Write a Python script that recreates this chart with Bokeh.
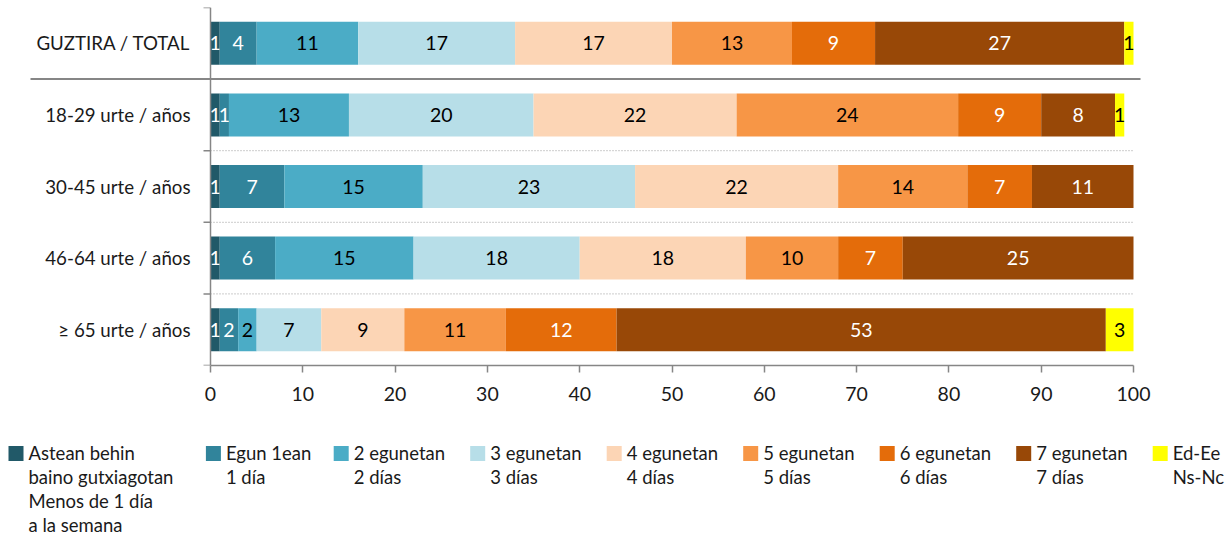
from bokeh.plotting import figure
from bokeh.models import ColumnDataSource, Range1d, Span, FixedTicker
from bokeh.layouts import column
from bokeh.embed import file_html
from bokeh.resources import INLINE
from bokeh.core.properties import value
import numpy as np

# ---------------- data ----------------
categories = ["GUZTIRA / TOTAL", "18-29 urte / años", "30-45 urte / años",
              "46-64 urte / años", "≥ 65 urte / años"]
series_labels = [
    "Astean behin\nbaino gutxiagotan\nMenos de 1 día\na la semana",
    "Egun 1ean\n1 día",
    "2 egunetan\n2 días",
    "3 egunetan\n3 días",
    "4 egunetan\n4 días",
    "5 egunetan\n5 días",
    "6 egunetan\n6 días",
    "7 egunetan\n7 días",
    "Ed-Ee\nNs-Nc",
]
less_than_1_day = [1, 1, 1, 1, 1]
day_1 = [4, 1, 7, 6, 2]
days_2 = [11, 13, 15, 15, 2]
days_3 = [17, 20, 23, 18, 7]
days_4 = [17, 22, 22, 18, 9]
days_5 = [13, 24, 14, 10, 11]
days_6 = [9, 9, 7, 7, 12]
days_7 = [27, 8, 11, 25, 53]
ns_nc = [1, 1, 0, 0, 3]
x_ticks = [0, 10, 20, 30, 40, 50, 60, 70, 80, 90, 100]

series_values = [less_than_1_day, day_1, days_2, days_3, days_4, days_5,
                 days_6, days_7, ns_nc]

# ---------------- style / layout ----------------
colors = ["#215968", "#31849B", "#4BACC6", "#B7DEE8", "#FCD5B5",
          "#F79646", "#E46C0A", "#984807", "#FFFF00"]
label_colors = ["white", "white", "black", "black", "black",
                "black", "white", "white", "black"]
FONT = "Lato"
AXIS_GRAY = "#868686"
TEXT = "#1a1a1a"

W = 1228
MAIN_H = 418
TOP_BORDER, BOTTOM_BORDER = 7, 53
LEG_H = 126
ZERO_PX = 210          # screen position of x = 0
PX_PER_UNIT = 9.23     # screen pixels per percentage point
X_START = -ZERO_PX / PX_PER_UNIT
X_END = X_START + W / PX_PER_UNIT
tick_len = 7 / PX_PER_UNIT
label_gap = 20 / PX_PER_UNIT
sep_start = -180 / PX_PER_UNIT
sep_end = 100 + 7 / PX_PER_UNIT

n = len(categories)
ys = np.arange(n) + 0.5

p = figure(output_backend="svg", toolbar_location=None, width=W, height=MAIN_H,
           x_range=Range1d(X_START, X_END), y_range=Range1d(n, 0),
           y_axis_location=None,
           min_border_left=0, min_border_right=0,
           min_border_top=TOP_BORDER, min_border_bottom=BOTTOM_BORDER)
p.grid.visible = False
p.outline_line_color = None

# bars + labels
cum = np.zeros(n)
for vals, col, lab_col in zip(series_values, colors, label_colors):
    v = np.array(vals, dtype=float)
    left = cum.copy()
    right = cum + v
    src = ColumnDataSource(dict(y=ys, left=left, right=right))
    p.hbar(y="y", left="left", right="right", height=0.6, source=src,
           fill_color=col, line_color=None)
    mask = v > 0
    lsrc = ColumnDataSource(dict(x=((left + right) / 2)[mask], y=ys[mask],
                                 t=[f"{int(round(a))}" for a in v[mask]]))
    p.text(x="x", y="y", text="t", source=lsrc, text_align="center",
           text_baseline="middle", text_font=value(FONT), text_font_size="19.5px",
           text_color=lab_col)
    cum = right

# category labels (left of the axis)
p.text(x=[-label_gap] * n, y=ys, text=categories, text_align="right",
       text_baseline="middle", text_font=value(FONT), text_font_size="18.7px",
       text_color=TEXT)

# vertical axis line and boundary ticks
p.add_layout(Span(location=0, dimension="height", line_color=AXIS_GRAY, line_width=1.5))
bounds = np.arange(n + 1)
p.segment(x0=[-tick_len] * (n + 1), x1=[0] * (n + 1), y0=bounds, y1=bounds,
          line_color=AXIS_GRAY, line_width=1.5)

# separators: solid after the total row, dotted between age groups
p.segment(x0=[sep_start], x1=[sep_end], y0=[1], y1=[1],
          line_color=AXIS_GRAY, line_width=2)
inner = np.arange(2, n)
p.segment(x0=[0] * len(inner), x1=[100] * len(inner), y0=inner, y1=inner,
          line_color="#9a9a9a", line_width=1, line_dash="1 2")

# x axis
xa = p.xaxis[0]
xa.ticker = FixedTicker(ticks=x_ticks)
xa.bounds = (0, 100)
xa.axis_line_color = AXIS_GRAY
xa.axis_line_width = 1.5
xa.major_tick_line_color = AXIS_GRAY
xa.major_tick_line_width = 1.5
xa.major_tick_in = 0
xa.major_tick_out = 7
xa.minor_tick_line_color = None
xa.major_label_text_font = FONT
xa.major_label_text_font_size = "19.5px"
xa.major_label_text_color = TEXT
xa.major_label_standoff = 14

# ---------------- legend (strip below the chart) ----------------
CHAR_W, ITEM_PAD = 8.7, 49.5
LEG_X0 = 8
SQ = 15
FIRST_LINE_Y = 35
item_w = [max(len(s) for s in lab.split("\n")) * CHAR_W + ITEM_PAD for lab in series_labels]
item_x = LEG_X0 + np.concatenate([[0.0], np.cumsum(item_w)[:-1]])

leg = figure(output_backend="svg", toolbar_location=None, width=W, height=LEG_H,
             x_range=Range1d(0, W), y_range=Range1d(LEG_H, 0),
             x_axis_location=None, y_axis_location=None,
             min_border_left=0, min_border_right=0, min_border_top=0, min_border_bottom=0)
leg.grid.visible = False
leg.outline_line_color = None
leg.scatter(x=item_x + SQ / 2, y=[FIRST_LINE_Y] * len(series_labels), marker="square",
            size=SQ, fill_color=colors, line_color=None)
leg.text(x=item_x + SQ + 5, y=[FIRST_LINE_Y - 12] * len(series_labels), text=series_labels,
         text_align="left", text_baseline="top", text_font=value(FONT),
         text_font_size="18.5px", text_line_height=1.1, text_color=TEXT)

layout = column(p, leg, spacing=0)
open("out.html", "w").write(file_html(layout, INLINE))
